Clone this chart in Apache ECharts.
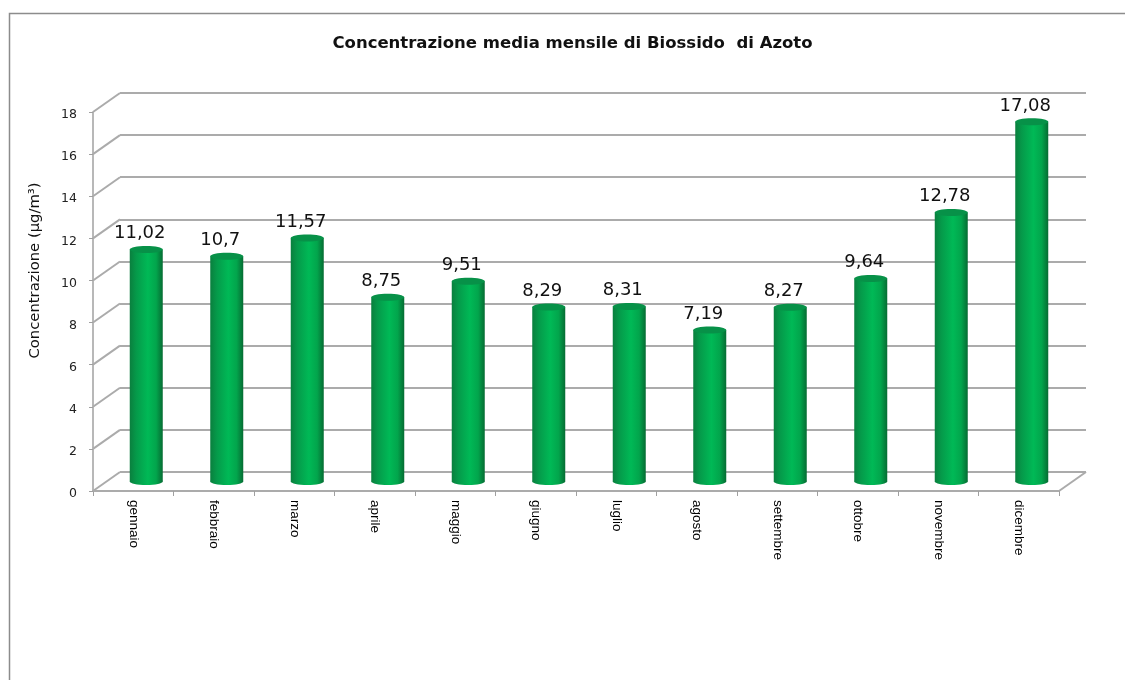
<!DOCTYPE html>
<html>
<head>
<meta charset="utf-8">
<title>Biossido di Azoto</title>
<style>
html, body { margin: 0; padding: 0; background: #fff; }
#chart { width: 1125px; height: 680px; }
</style>
<script src="https://cdn.jsdelivr.net/npm/echarts@6/dist/echarts.min.js"></script>
</head>
<body>
<div id="chart"></div>
<script>
var titleText = 'Concentrazione media mensile di Biossido  di Azoto';
var yAxisTitle = 'Concentrazione (µg/m³)';
var months = ['gennaio', 'febbraio', 'marzo', 'aprile', 'maggio', 'giugno', 'luglio', 'agosto', 'settembre', 'ottobre', 'novembre', 'dicembre'];
var concentrations = [11.02, 10.7, 11.57, 8.75, 9.51, 8.29, 8.31, 7.19, 8.27, 9.64, 12.78, 17.08];
var wallTicks = [0, 2, 4, 6, 8, 10, 12, 14, 16, 18];

// finto 3D: la parete di fondo e' la griglia frontale spostata di depthX/depthY
var depthX = 27;
var depthY = -19;
var frontGrid = { left: 93, top: 112, width: 966, height: 379 };
var wallColor = '#ababab';
var axisColor = '#a0a0a0';

function renderSlant(params, api) {
	var v = api.value(0);
	var y = api.coord([0, v])[1];
	var x = params.coordSys.x;
	var children = [{
		type: 'line',
		shape: { x1: x, y1: y, x2: x + depthX, y2: y + depthY },
		style: { stroke: wallColor, lineWidth: 2 }
	}];
	if (v === 0) {
		var xr = x + params.coordSys.width;
		children.push({
			type: 'line',
			shape: { x1: xr, y1: y, x2: xr + depthX, y2: y + depthY },
			style: { stroke: wallColor, lineWidth: 2 }
		});
	}
	return { type: 'group', children: children };
}

function cylinderFill() {
	return new echarts.graphic.LinearGradient(0, 0, 1, 0, [
		{ offset: 0, color: '#0a7f3e' },
		{ offset: 0.2, color: '#059a4a' },
		{ offset: 0.55, color: '#00b956' },
		{ offset: 0.8, color: '#02a54c' },
		{ offset: 1, color: '#066c33' }
	]);
}

function renderCylinder(params, api) {
	var i = api.value(0);
	var val = api.value(1);
	var top = api.coord([i, val]);
	var base = api.coord([i, 0]);
	var rx = api.size([1, 0])[0] * 0.205;
	var cx = top[0] + depthX / 2 - 0.5;
	var topY = top[1] + depthY / 2;
	var baseY = base[1] + depthY / 2;
	return {
		type: 'group',
		children: [{
			type: 'ellipse',
			shape: { cx: cx, cy: baseY, rx: rx, ry: 3.5 },
			style: { fill: cylinderFill() }
		}, {
			type: 'rect',
			shape: { x: cx - rx, y: topY, width: rx * 2, height: baseY - topY },
			style: { fill: cylinderFill() }
		}, {
			type: 'ellipse',
			shape: { cx: cx, cy: topY, rx: rx, ry: 3.5 },
			style: { fill: '#079148' }
		}, {
			type: 'text',
			x: cx - 6.5,
			y: topY - 7,
			style: {
				text: String(val).replace('.', ','),
				fill: '#111',
				font: '18px "DejaVu Sans"',
				align: 'center',
				verticalAlign: 'bottom'
			}
		}]
	};
}

var chart = echarts.init(document.getElementById('chart'), null, { renderer: 'canvas' });
chart.setOption({
	animation: false,
	backgroundColor: '#fff',
	title: {
		text: titleText,
		left: 567.5,
		top: 30,
		textAlign: 'center',
		textStyle: { fontFamily: 'DejaVu Sans', fontSize: 16.5, fontWeight: 'bold', color: '#111' }
	},
	graphic: [{
		type: 'polyline',
		shape: { points: [[9.5, 680], [9.5, 13.5], [1125, 13.5]] },
		style: { stroke: '#8c8c8c', lineWidth: 1.5, fill: null }
	}],
	grid: [
		{ left: frontGrid.left + depthX, top: frontGrid.top + depthY, width: frontGrid.width, height: frontGrid.height },
		frontGrid
	],
	xAxis: [{
		gridIndex: 0,
		type: 'category',
		data: months,
		axisLine: { show: false },
		axisTick: { show: false },
		axisLabel: { show: false }
	}, {
		gridIndex: 1,
		type: 'category',
		data: months,
		axisLine: { lineStyle: { color: wallColor, width: 2 } },
		axisTick: { show: true, length: 5, lineStyle: { color: axisColor, width: 1 } },
		axisLabel: {
			rotate: -90,
			interval: 0,
			margin: 9,
			color: '#000',
			fontFamily: 'Liberation Sans',
			fontSize: 13.5
		}
	}],
	yAxis: [{
		gridIndex: 0,
		type: 'value',
		min: 0,
		max: 18,
		interval: 2,
		axisLine: { show: false },
		axisTick: { show: false },
		axisLabel: { show: false },
		splitLine: { show: true, lineStyle: { color: wallColor, width: 2 } }
	}, {
		gridIndex: 1,
		type: 'value',
		min: 0,
		max: 18,
		interval: 2,
		name: yAxisTitle,
		nameLocation: 'middle',
		nameRotate: 90,
		nameGap: 50,
		nameTextStyle: { fontFamily: 'DejaVu Sans', fontSize: 14.8, color: '#111', padding: [0, 0, 0, 62] },
		axisLine: { show: true, lineStyle: { color: axisColor, width: 1.5 } },
		axisTick: { show: true, length: 4, lineStyle: { color: axisColor, width: 1 } },
		axisLabel: { margin: 16, color: '#222', fontFamily: 'DejaVu Sans', fontSize: 12.5, verticalAlign: 'top', lineHeight: 6 },
		splitLine: { show: false }
	}],
	series: [{
		type: 'custom',
		xAxisIndex: 1,
		yAxisIndex: 1,
		silent: true,
		z: 1,
		data: wallTicks,
		encode: { y: 0 },
		renderItem: renderSlant
	}, {
		type: 'custom',
		xAxisIndex: 1,
		yAxisIndex: 1,
		silent: true,
		z: 5,
		data: concentrations.map(function (v, i) { return [i, v]; }),
		encode: { x: 0, y: 1 },
		renderItem: renderCylinder
	}]
});
</script>
</body>
</html>
